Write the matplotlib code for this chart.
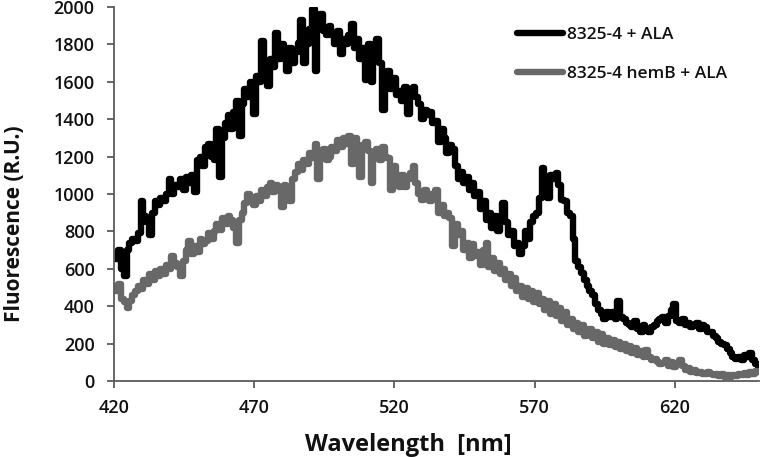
import matplotlib
matplotlib.use("Agg")
import matplotlib.pyplot as plt
import numpy as np

plt.rcParams['font.family'] = ['Open Sans', 'DejaVu Sans']

wavelength = list(range(420, 651))

wt_ala = [
    680, 650, 700, 600, 560, 700, 740, 760, 750, 790,   # 420-429
    960, 880, 850, 780, 900, 960, 940, 980, 960, 1000,  # 430-439
    1080, 1000, 1050, 1040, 1080, 1020, 1090, 1060, 1100, 1010,  # 440-449
    1180, 1200, 1150, 1250, 1270, 1200, 1180, 1350, 1090, 1300,  # 450-459
    1380, 1420, 1350, 1440, 1500, 1310, 1480, 1560, 1520, 1600,  # 460-469
    1430, 1630, 1600, 1820, 1700, 1580, 1720, 1680, 1860, 1720,  # 470-479
    1800, 1760, 1660, 1780, 1700, 1760, 1810, 1930, 1700, 1800,  # 480-489
    1880, 1990, 1660, 1900, 1960, 1870, 1850, 1900, 1850, 1800,  # 490-499
    1870, 1750, 1830, 1800, 1850, 1910, 1780, 1830, 1720, 1780,  # 500-509
    1610, 1800, 1600, 1760, 1830, 1700, 1450, 1600, 1660, 1560,  # 510-519
    1620, 1530, 1550, 1500, 1570, 1430, 1540, 1570, 1520, 1480,  # 520-529
    1400, 1450, 1420, 1440, 1380, 1390, 1280, 1350, 1300, 1220,  # 530-539
    1260, 1240, 1150, 1080, 1120, 1060, 1090, 1020, 1060, 990,   # 540-549
    1010, 920, 960, 860, 900, 820, 880, 800, 860, 950,           # 550-559
    850, 780, 800, 720, 740, 680, 720, 800, 760, 850,            # 560-569
    880, 900, 980, 1140, 1020, 980, 1100, 1080, 1110, 1050,      # 570-579
    970, 960, 900, 880, 760, 640, 610, 580, 540, 510,            # 580-589
    480, 460, 410, 380, 360, 330, 370, 340, 370, 330,            # 590-599
    430, 340, 330, 310, 300, 290, 320, 280, 260, 300,            # 600-609
    280, 260, 290, 300, 320, 330, 340, 310, 350, 380,            # 610-619
    410, 320, 310, 330, 300, 310, 290, 300, 310, 280,            # 620-629
    300, 290, 260, 260, 240, 230, 210, 200, 190, 170,            # 630-639
    150, 130, 120, 130, 110, 140, 130, 150, 110, 90,             # 640-649
    80,                                                          # 650
]

hemb_ala = [
    500, 480, 520, 440, 420, 390, 430, 460, 480, 510,   # 420-429
    490, 540, 520, 570, 540, 590, 560, 600, 570, 620,   # 430-439
    600, 670, 630, 610, 560, 640, 700, 750, 680, 720,   # 440-449
    690, 760, 730, 750, 790, 760, 800, 840, 810, 870,   # 450-459
    840, 880, 860, 820, 740, 860, 900, 950, 1000, 960,  # 460-469
    940, 990, 960, 1020, 990, 1040, 1060, 1010, 1050, 1040,  # 470-479
    930, 1050, 1020, 960, 1080, 1120, 1160, 1130, 1180, 1160,  # 480-489
    1220, 1190, 1270, 1080, 1200, 1240, 1180, 1200, 1250, 1230,  # 490-499
    1290, 1250, 1300, 1270, 1310, 1160, 1300, 1250, 1090, 1260,  # 500-509
    1280, 1230, 1060, 1220, 1240, 1180, 1250, 1200, 1190, 1020,  # 510-519
    1150, 1060, 1040, 1100, 1040, 1080, 1110, 1150, 1060, 1000,  # 520-529
    970, 1020, 990, 960, 1000, 1020, 900, 940, 880, 900,         # 530-539
    870, 720, 840, 780, 800, 700, 740, 660, 730, 670,            # 540-549
    690, 620, 700, 740, 610, 660, 590, 630, 570, 600,            # 550-559
    540, 570, 510, 550, 480, 510, 450, 500, 440, 480,            # 560-569
    420, 470, 410, 440, 380, 430, 360, 410, 350, 390,            # 570-579
    320, 370, 300, 330, 280, 310, 260, 300, 240, 270,            # 580-589
    280, 230, 260, 210, 250, 200, 230, 190, 220, 180,            # 590-599
    210, 170, 200, 160, 185, 150, 175, 140, 160, 130,            # 600-609
    165, 130, 110, 120, 100, 90, 95, 110, 80, 100,               # 610-619
    75, 90, 110, 80, 60, 70, 50, 60, 45, 50,                     # 620-629
    40, 35, 50, 40, 30, 40, 25, 35, 20, 30,                      # 630-639
    20, 30, 25, 35, 30, 45, 30, 50, 40, 55,                      # 640-649
    50,                                                          # 650
]

series_labels = ["8325-4 + ALA", "8325-4 hemB + ALA"]
x_ticks = [420, 470, 520, 570, 620]
y_ticks = [0, 200, 400, 600, 800, 1000, 1200, 1400, 1600, 1800, 2000]

fig = plt.figure(figsize=(7.61, 4.57), dpi=100)
ax = fig.add_axes([114/761, 76/457, 645/761, 374/457])

ax.plot(wavelength, wt_ala, color='black', lw=4.6, label=series_labels[0],
        drawstyle='steps-mid', solid_joinstyle='round', solid_capstyle='round')
ax.plot(wavelength, hemb_ala, color='#686868', lw=4.6, label=series_labels[1],
        drawstyle='steps-mid', solid_joinstyle='round', solid_capstyle='round')

ax.set_xlim(420, 650)
ax.set_ylim(0, 2000)
ax.set_xticks(x_ticks)
ax.set_yticks(y_ticks)

spine_col = '#5a5a5a'
for s in ['top', 'right']:
    ax.spines[s].set_visible(False)
for s in ['left', 'bottom']:
    ax.spines[s].set_color(spine_col)
    ax.spines[s].set_linewidth(1.3)

ax.tick_params(axis='both', colors=spine_col, labelcolor='#111111',
               labelsize=13, length=5, width=1.3, direction='out')
ax.tick_params(axis='x', pad=8)
ax.tick_params(axis='y', pad=9)
for lab in ax.get_xticklabels() + ax.get_yticklabels():
    lab.set_fontweight('semibold')

ax.set_xlabel("Wavelength  [nm]", fontsize=17, fontweight='bold', color='#111111')
ax.set_ylabel("Fluorescence (R.U.)", fontsize=15, fontweight='bold', color='#111111')
ax.xaxis.set_label_coords(0.457, -0.14)
ax.yaxis.set_label_coords(-0.138, 0.42)

leg = ax.legend(loc='upper left', bbox_to_anchor=(0.625, 0.948), frameon=False,
                fontsize=12.5, handlelength=2.64, handletextpad=0.25,
                labelspacing=1.34, borderpad=0, borderaxespad=0)
for h in leg.get_lines():
    h.set_linewidth(4.6)
for t in leg.get_texts():
    t.set_color('#111111')
    t.set_fontweight('semibold')

fig.savefig("out.png", dpi=100)
